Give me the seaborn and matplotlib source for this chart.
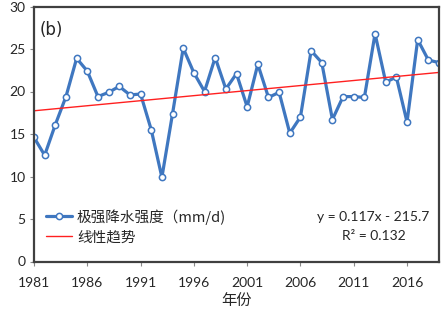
import numpy as np
import pandas as pd
import matplotlib
matplotlib.use("Agg")
import matplotlib.pyplot as plt
import seaborn as sns

years = list(range(1981, 2020))
intensity = [14.6, 12.5, 16.1, 19.4, 23.9, 22.4, 19.4, 19.9, 20.6, 19.6,
             19.7, 15.5, 9.9, 17.4, 25.1, 22.2, 20.0, 24.0, 20.3, 22.1,
             18.2, 23.2, 19.3, 19.9, 15.1, 17.0, 24.8, 23.4, 16.7, 19.4,
             19.4, 19.3, 26.8, 21.1, 21.7, 16.4, 26.1, 23.7, 23.4]
xticks = [1981, 1986, 1991, 1996, 2001, 2006, 2011, 2016]
yticks = [0, 5, 10, 15, 20, 25, 30]
series_label = "极强降水强度（mm/d)"
trend_label = "线性趋势"
eq_text = "y = 0.117x - 215.7"
r2_text = "R² = 0.132"

sns.set_style("white")
plt.rcParams['font.family'] = ['Lato', 'Noto Sans CJK SC', 'DejaVu Sans']

df = pd.DataFrame({"year": years, "val": intensity})
coef = np.polyfit(df["year"], df["val"], 1)
df["trend"] = np.polyval(coef, df["year"])

fig = plt.figure(figsize=(4.44, 3.14), dpi=100)
ax = fig.add_axes([34/444, 1 - 261.5/314, (439 - 34)/444, (261.5 - 6.5)/314])

blue = "#3F77C0"
sns.lineplot(data=df, x="year", y="val", ax=ax, color=blue, lw=2.3,
             marker="o", markersize=4.5, markerfacecolor="white",
             markeredgecolor=blue, markeredgewidth=1.1, label=series_label)
sns.lineplot(data=df, x="year", y="trend", ax=ax, color="#FF2020", lw=1.0,
             label=trend_label)

ax.set_xlim(1981, 2019)
ax.set_ylim(0, 30)
ax.set_xticks(xticks)
ax.set_yticks(yticks)
ax.tick_params(axis="both", labelsize=10, length=3, width=0.8,
               color="#888888", direction="out", pad=3)
ax.tick_params(axis="x", pad=8)
ax.xaxis.set_ticks_position("bottom")
ax.yaxis.set_ticks_position("left")
for s in ax.spines.values():
    s.set_color("#404040")
    s.set_linewidth(1.6)

ax.set_xlabel("年份", fontsize=11, family=['Noto Sans CJK SC'], labelpad=2)
ax.set_ylabel("")

ax.text(0.015, 0.945, "(b)", transform=ax.transAxes, fontsize=12,
        ha="left", va="top", family=['DejaVu Sans'])

leg = ax.legend(loc="lower left", bbox_to_anchor=(0.005, 0.027), frameon=False,
                handlelength=1.8, handletextpad=0.3,
                labelspacing=0.4, borderaxespad=0.3,
                prop={'family': ['Noto Sans CJK SC'], 'size': 10.5})

ax.text((373.5 - 34)/405, 1 - (217 - 6.5)/255, eq_text, transform=ax.transAxes,
        fontsize=10, ha="center", va="center")
ax.text((373.5 - 34)/405, 1 - (236 - 6.5)/255, r2_text, transform=ax.transAxes,
        fontsize=10, ha="center", va="center")

fig.savefig("out.png", dpi=100)
